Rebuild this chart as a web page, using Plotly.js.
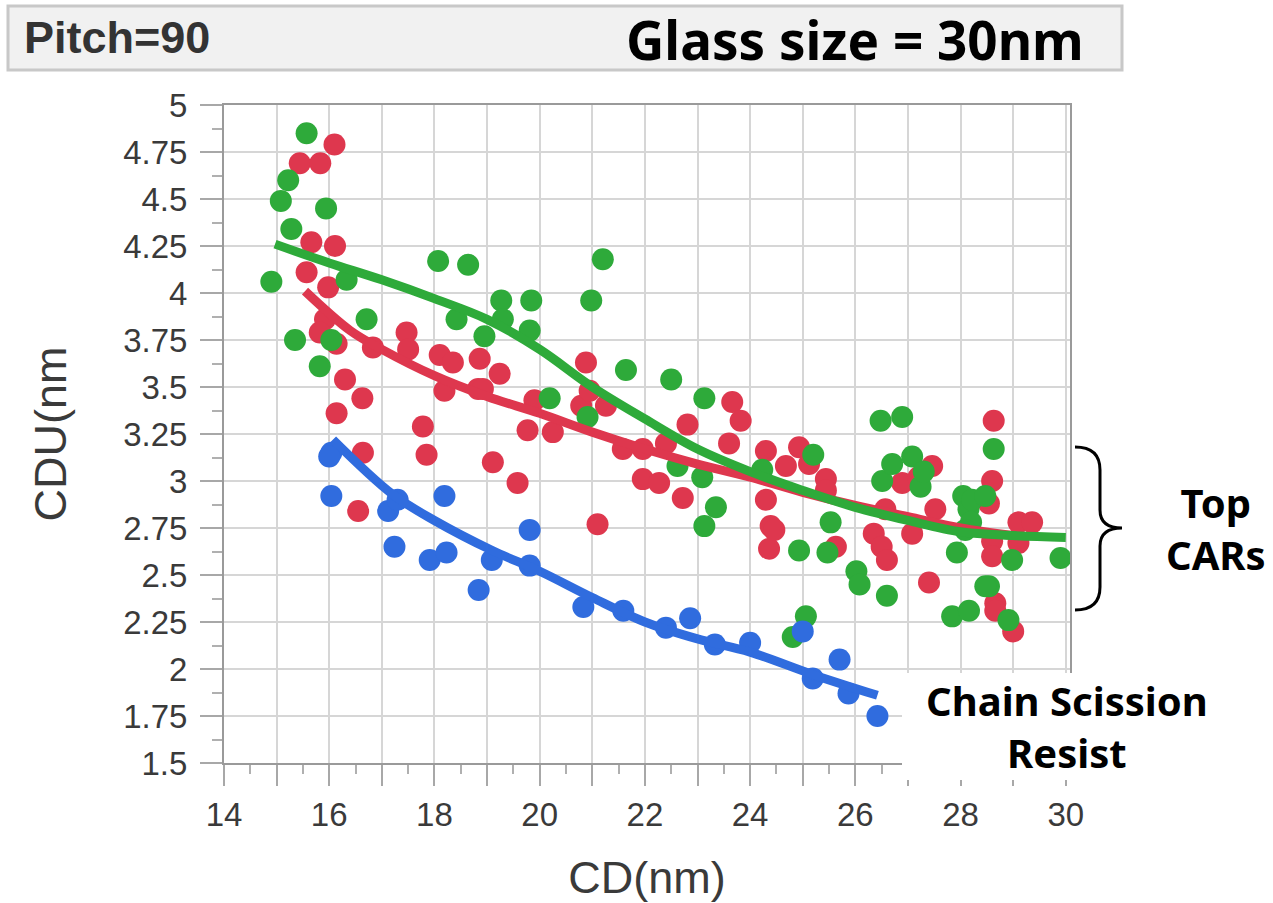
<!DOCTYPE html>
<html>
<head>
<meta charset="utf-8">
<script src="https://cdn.plot.ly/plotly-3.0.1.min.js"></script>
<style>html,body{margin:0;padding:0;background:#fff;}#chart{width:1273px;height:903px;}</style>
</head>
<body>
<div id="chart"></div>
<script>
// ---- data ----
const greenX = [15.57,15.22,15.08,15.94,15.28,14.9,16.33,15.35,15.82,16.04,16.71,18.07,18.64,18.42,18.95,19.27,19.84,19.3,19.81,20.98,21.2,20.19,20.91,21.64,22.5,23.13,22.62,23.09,23.35,23.13,24.23,25.2,24.93,25.53,25.47,26.02,26.08,26.6,24.81,25.06,26.48,26.89,26.51,26.7,27.08,27.24,27.3,28.63,28.05,28.15,28.22,28.47,28.2,28.09,27.93,28.98,28.54,28.47,27.84,28.16,28.91,29.9];
const greenY = [4.85,4.60,4.49,4.45,4.34,4.06,4.07,3.75,3.61,3.75,3.86,4.17,4.15,3.86,3.77,3.96,3.96,3.86,3.80,3.96,4.18,3.44,3.34,3.59,3.54,3.44,3.08,3.02,2.86,2.76,3.06,3.14,2.63,2.78,2.62,2.52,2.45,2.39,2.17,2.28,3.32,3.34,3.00,3.09,3.13,2.97,3.05,3.17,2.92,2.85,2.90,2.92,2.78,2.74,2.62,2.58,2.44,2.44,2.28,2.31,2.26,2.59];

const redX = [16.1,15.44,15.83,15.66,16.11,15.57,15.98,15.92,15.82,16.14,16.83,17.47,17.5,18.1,18.35,18.86,16.3,16.63,18.19,18.83,16.14,17.78,16.64,17.85,19.11,16.55,19.24,18.92,19.9,19.77,20.25,20.79,20.95,20.88,21.26,21.58,21.96,22.4,22.81,23.6,23.66,23.82,24.3,19.58,21.96,22.27,22.72,21.1,24.3,24.39,24.36,24.93,25.12,24.68,25.44,25.44,24.46,25.63,26.35,26.5,26.6,26.89,27.2,27.46,26.57,27.52,27.08,27.4,28.63,28.6,28.54,28.6,28.6,28.66,29.1,29.36,29.1,29.0,28.66];
const redY = [4.79,4.69,4.69,4.27,4.25,4.11,4.03,3.86,3.79,3.73,3.71,3.79,3.70,3.67,3.63,3.65,3.54,3.44,3.48,3.49,3.36,3.29,3.15,3.14,3.10,2.84,3.57,3.49,3.43,3.27,3.26,3.40,3.48,3.63,3.40,3.17,3.17,3.20,3.30,3.20,3.42,3.32,3.16,2.99,3.01,2.99,2.91,2.77,2.90,2.76,2.64,3.18,3.09,3.08,3.01,2.95,2.74,2.65,2.72,2.65,2.58,2.99,3.02,3.08,2.85,2.85,2.72,2.46,3.32,3.00,2.88,2.68,2.60,2.35,2.78,2.78,2.67,2.20,2.31];

const blueX = [16.04,16.0,16.04,17.12,17.3,17.24,17.91,18.19,18.23,18.84,19.09,19.81,19.81,20.83,21.59,22.4,22.86,23.33,24.0,25.0,25.19,25.7,25.87,26.42];
const blueY = [3.15,3.13,2.92,2.84,2.90,2.65,2.58,2.92,2.62,2.42,2.58,2.74,2.55,2.33,2.31,2.22,2.27,2.13,2.14,2.20,1.95,2.05,1.87,1.75];

const greenFitX = [14.97,16,17,18,19,20,21,22,23,24,25,26,27,28,29,30];
const greenFitY = [4.26,4.16,4.07,3.97,3.86,3.70,3.50,3.33,3.17,3.05,2.95,2.86,2.79,2.73,2.71,2.70];
const redFitX = [15.54,16.4,17,18,19,20,21,22,23,24,25,26,27,28,29];
const redFitY = [4.01,3.80,3.70,3.56,3.45,3.36,3.26,3.17,3.09,3.02,2.94,2.87,2.81,2.75,2.71];
const blueFitX = [16.07,17.2,18,19.1,20,21,22,23,24,25.2,26.42];
const blueFitY = [3.22,2.93,2.79,2.63,2.52,2.38,2.25,2.16,2.09,1.97,1.86];

const xTickVals = [14,15,16,17,18,19,20,21,22,23,24,25,26,27,28,29,30];
const xTickText = ['14','','16','','18','','20','','22','','24','','26','','28','','30'];
const yTickVals = [1.5,1.75,2,2.25,2.5,2.75,3,3.25,3.5,3.75,4,4.25,4.5,4.75,5];
const yTickText = ['1.5','1.75','2','2.25','2.5','2.75','3','3.25','3.5','3.75','4','4.25','4.5','4.75','5'];

// ---- styling ----
const GREEN = 'rgb(46,170,58)';
const RED = 'rgb(222,55,78)';
const BLUE = 'rgb(48,108,222)';
const MS = 22;

// plot-area pixel frame (for decorations only)
const L = 224, R = 1070, T = 105, B = 763;
const px = v => (v - L) / (R - L);
const py = v => (B - v) / (B - T);

function pts(x, y, c) {
  return {x: x, y: y, type: 'scatter', mode: 'markers', hoverinfo: 'skip',
    marker: {size: MS, color: c, line: {width: 0}}};
}
function fit(x, y, c) {
  return {x: x, y: y, type: 'scatter', mode: 'lines', hoverinfo: 'skip',
    line: {color: c, width: 9, shape: 'spline', smoothing: 1}};
}

const data = [
  pts(redX, redY, RED),
  pts(greenX, greenY, GREEN),
  pts(blueX, blueY, BLUE),
  fit(redFitX, redFitY, RED),
  fit(greenFitX, greenFitY, GREEN),
  fit(blueFitX, blueFitY, BLUE)
];

const axFont = {family: 'Liberation Sans, Arial, sans-serif', size: 33, color: '#3a3a3a'};
const annFont = (s) => ({family: 'Noto Sans, Open Sans, sans-serif', size: s, color: '#000', weight: 'bold'});

const braceX0 = 1075, braceX1 = 1100, braceTip = 1122;
const bracePath =
  'M' + px(braceX0) + ',' + py(447) +
  ' Q' + px(braceX1) + ',' + py(447) + ' ' + px(braceX1) + ',' + py(470) +
  ' L' + px(braceX1) + ',' + py(510) +
  ' Q' + px(braceX1) + ',' + py(528) + ' ' + px(braceTip) + ',' + py(528) +
  ' Q' + px(braceX1) + ',' + py(528) + ' ' + px(braceX1) + ',' + py(546) +
  ' L' + px(braceX1) + ',' + py(587) +
  ' Q' + px(braceX1) + ',' + py(610) + ' ' + px(braceX0) + ',' + py(610);

const layout = {
  width: 1273, height: 903,
  margin: {l: L, r: 1273 - R, t: T, b: 903 - B, pad: 0},
  paper_bgcolor: '#fff', plot_bgcolor: '#fff',
  showlegend: false,
  xaxis: {
    range: [14, 30.08], tickvals: xTickVals, ticktext: xTickText,
    showgrid: true, gridcolor: '#d6d6d6', gridwidth: 2,
    showline: true, linecolor: '#9a9a9a', linewidth: 2, mirror: true,
    ticks: 'outside', ticklen: 21, tickwidth: 2, tickcolor: '#a8a8a8',
    tickfont: axFont, zeroline: false,
    minor: {dtick: 0.5, tick0: 14, ticks: 'outside', ticklen: 9, tickwidth: 2, tickcolor: '#b0b0b0', showgrid: false},
    title: {text: 'CD(nm)', font: {family: 'Liberation Sans, Arial, sans-serif', size: 45, color: '#3a3a3a'}, standoff: 30}
  },
  yaxis: {
    range: [1.5, 5], tickvals: yTickVals, ticktext: yTickText,
    showgrid: true, gridcolor: '#d6d6d6', gridwidth: 2,
    showline: true, linecolor: '#9a9a9a', linewidth: 2, mirror: true,
    ticks: 'outside', ticklen: 22, tickwidth: 2, tickcolor: '#a8a8a8',
    tickfont: axFont, zeroline: false, ticklabelstandoff: 6,
    minor: {dtick: 0.125, tick0: 1.5, ticks: 'outside', ticklen: 10, tickwidth: 2, tickcolor: '#b0b0b0', showgrid: false},
    title: {text: 'CDU(nm', font: {family: 'Liberation Sans, Arial, sans-serif', size: 45, color: '#3a3a3a'}, standoff: 42}
  },
  shapes: [
    {type: 'rect', xref: 'paper', yref: 'paper', x0: px(8), x1: px(1122), y0: py(70), y1: py(6),
     fillcolor: '#f1f1f1', line: {color: '#c8c8c8', width: 3}, layer: 'above'},
    {type: 'rect', xref: 'paper', yref: 'paper', x0: px(902), x1: px(1273), y0: py(780), y1: py(673),
     fillcolor: '#ffffff', line: {width: 0}, layer: 'above'},
    {type: 'path', xref: 'paper', yref: 'paper', path: bracePath,
     line: {color: '#000', width: 3}, fillcolor: 'rgba(0,0,0,0)', layer: 'above'}
  ],
  annotations: [
    {xref: 'paper', yref: 'paper', x: px(22), y: py(37), xanchor: 'left', yanchor: 'middle', showarrow: false,
     text: '<b>Pitch=90</b>', font: {family: 'Liberation Sans, Arial, sans-serif', size: 45, color: '#333'}},
    {xref: 'paper', yref: 'paper', x: px(1086), y: py(40), xanchor: 'right', yanchor: 'middle', showarrow: false,
     text: '<b>Glass size = 30nm</b>', font: annFont(53)},
    {xref: 'paper', yref: 'paper', x: px(1216), y: py(528), xanchor: 'center', yanchor: 'middle', showarrow: false,
     text: '<b>Top<br>CARs</b>', font: annFont(40)},
    {xref: 'paper', yref: 'paper', x: px(1067), y: py(726), xanchor: 'center', yanchor: 'middle', showarrow: false,
     text: '<b>Chain Scission<br>Resist</b>', font: annFont(40)}
  ]
};

Plotly.newPlot('chart', data, layout, {displayModeBar: false, staticPlot: true});
</script>
</body>
</html>
